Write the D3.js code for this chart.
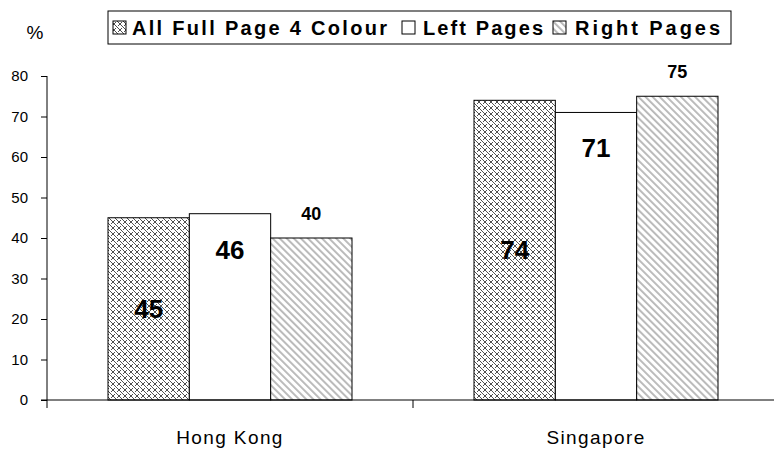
<!DOCTYPE html>
<html>
<head>
<meta charset="utf-8">
<script src="https://cdn.jsdelivr.net/npm/d3@7"></script>
<style>
  html, body { margin: 0; padding: 0; background: #fff; }
  svg { display: block; font-family: Arial, "Liberation Sans", sans-serif; }
</style>
</head>
<body>
<svg id="chart" width="774" height="450"></svg>
<script>
// Data
const categories = ["Hong Kong", "Singapore"];
const seriesNames = ["All Full Page 4 Colour", "Left Pages", "Right Pages"];
const allFullPage = [45, 74];
const leftPages = [46, 71];
const rightPages = [40, 75];
const yTicks = [0, 10, 20, 30, 40, 50, 60, 70, 80];

const seriesValues = [allFullPage, leftPages, rightPages];

const svg = d3.select("#chart");
const defs = svg.append("defs");

// Weave hatch for the first series
const weave = defs.append("pattern")
  .attr("id", "weave")
  .attr("patternUnits", "userSpaceOnUse")
  .attr("width", 6).attr("height", 6);
weave.append("rect").attr("width", 6).attr("height", 6).attr("fill", "#fff");
weave.append("path")
  .attr("d", "M-1,-1 L7,7 M0,6 L2,4 M6,0 L4,2")
  .attr("stroke", "#222").attr("stroke-width", 0.8).attr("fill", "none");

// Grey diagonal stripes for right pages
const stripes = defs.append("pattern")
  .attr("id", "stripes")
  .attr("patternUnits", "userSpaceOnUse")
  .attr("width", 5).attr("height", 5)
  .attr("patternTransform", "rotate(-45)");
stripes.append("rect").attr("width", 5).attr("height", 5).attr("fill", "#fff");
stripes.append("rect").attr("x", 0).attr("width", 1.9).attr("height", 5).attr("fill", "#b8b8b8");

const fills = ["url(#weave)", "#ffffff", "url(#stripes)"];

// Scales
const x0 = d3.scaleBand().domain(categories).range([47, 779]).paddingInner(0).paddingOuter(0);
const x1 = d3.scaleBand().domain(d3.range(seriesNames.length)).range([0, x0.bandwidth()])
  .paddingInner(0).paddingOuter(0.75);
const y = d3.scaleLinear().domain([0, 80]).range([400, 76]);

// Y axis
const yAxis = d3.axisLeft(y).tickValues(yTicks).tickSize(6).tickPadding(13).tickSizeOuter(0);
const gy = svg.append("g").attr("transform", "translate(47,0)").call(yAxis);
gy.select(".domain").remove();
gy.append("line").attr("x1", 0).attr("x2", 0).attr("y1", y(80)).attr("y2", 408)
  .attr("stroke", "#000").attr("stroke-width", 1);
gy.selectAll(".tick line").attr("stroke", "#000");
gy.selectAll(".tick text").attr("fill", "#000").style("font-size", "15px")
  .style("font-family", "Arial, 'Liberation Sans', sans-serif");

// Bars
const groups = svg.append("g").selectAll("g")
  .data(categories)
  .join("g")
  .attr("transform", d => `translate(${x0(d)},0)`);

groups.selectAll("rect")
  .data((c, ci) => seriesValues.map((vals, si) => ({ si, v: vals[ci] })))
  .join("rect")
  .attr("x", d => x1(d.si))
  .attr("width", x1.bandwidth())
  .attr("y", d => y(d.v))
  .attr("height", d => y(0) - y(d.v))
  .attr("fill", d => fills[d.si])
  .attr("stroke", "#000")
  .attr("stroke-width", 1);

// Value labels
groups.selectAll("text.val")
  .data((c, ci) => seriesValues.map((vals, si) => ({ si, v: vals[ci] })))
  .join("text")
  .attr("class", "val")
  .attr("x", d => x1(d.si) + x1.bandwidth() / 2)
  .attr("y", d => {
    if (d.si === 0) return (y(d.v) + y(0)) / 2;
    if (d.si === 1) return y(d.v) + 36;
    return y(d.v) - 24;
  })
  .attr("text-anchor", "middle")
  .attr("dominant-baseline", "central")
  .attr("font-weight", "bold")
  .attr("font-size", d => d.si === 2 ? "18px" : "26px")
  .attr("fill", "#000")
  .text(d => d.v);

// X axis baseline and category separators
svg.append("line").attr("x1", 41).attr("x2", 774).attr("y1", 400).attr("y2", 400)
  .attr("stroke", "#000").attr("stroke-width", 1);
svg.append("g").selectAll("line")
  .data(categories.slice(1))
  .join("line")
  .attr("x1", d => x0(d)).attr("x2", d => x0(d))
  .attr("y1", 400).attr("y2", 408)
  .attr("stroke", "#000").attr("stroke-width", 1);

// Category labels
svg.append("g").selectAll("text")
  .data(categories)
  .join("text")
  .attr("x", d => x0(d) + x0.bandwidth() / 2)
  .attr("y", 444)
  .attr("text-anchor", "middle")
  .attr("font-size", "19px")
  .attr("letter-spacing", "1.4px")
  .attr("fill", "#000")
  .text(d => d);

// Unit label
svg.append("text").attr("x", 35).attr("y", 39).attr("text-anchor", "middle")
  .attr("font-size", "19px").attr("fill", "#000").text("%");

// Legend
const legend = svg.append("g");
legend.append("rect").attr("x", 108).attr("y", 11).attr("width", 623).attr("height", 33)
  .attr("fill", "#fff").attr("stroke", "#000").attr("stroke-width", 1);
const legendItems = [
  { sx: 113, tx: 132, tw: 255 },
  { sx: 402, tx: 423, tw: 120 },
  { sx: 553, tx: 575, tw: 145 }
];
legend.selectAll("rect.sw")
  .data(seriesNames)
  .join("rect")
  .attr("class", "sw")
  .attr("x", (d, i) => legendItems[i].sx)
  .attr("y", 21).attr("width", 13).attr("height", 13)
  .attr("fill", (d, i) => fills[i])
  .attr("stroke", "#000").attr("stroke-width", 1);
legend.selectAll("text")
  .data(seriesNames)
  .join("text")
  .attr("x", (d, i) => legendItems[i].tx)
  .attr("y", 35)
  .attr("font-size", "20px")
  .attr("font-weight", "bold")
  .attr("textLength", (d, i) => legendItems[i].tw)
  .attr("lengthAdjust", "spacing")
  .attr("fill", "#000")
  .text(d => d);
</script>
</body>
</html>
